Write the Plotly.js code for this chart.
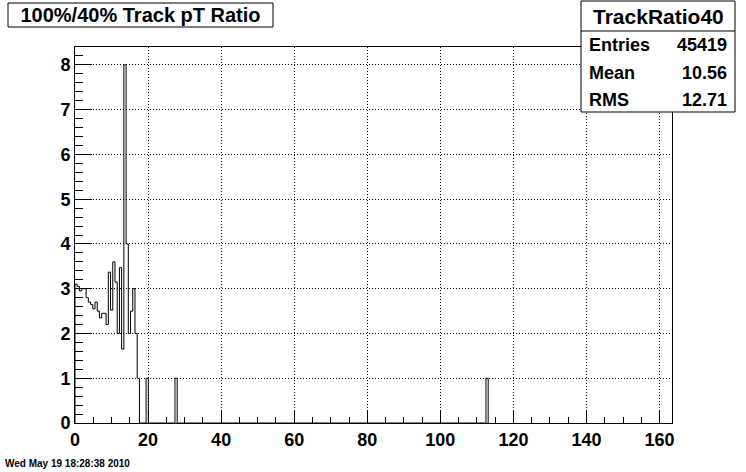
<!DOCTYPE html>
<html>
<head>
<meta charset="utf-8">
<script src="https://cdn.plot.ly/plotly-3.0.1.min.js"></script>
<style>
  html, body { margin: 0; padding: 0; background: #ffffff; }
  #chart { width: 746px; height: 472px; }
</style>
</head>
<body>
<div id="chart"></div>
<script>
// ---- data ----
const histName = "TrackRatio40";
const chartTitle = "100%/40% Track pT Ratio";
const binWidth = 0.608;
const xMax = 163.4;
// contiguous bins starting at 0
const counts = [3.1, 3.05, 2.95, 3.0, 3.0, 2.8, 2.7, 2.65, 2.55, 2.7,
                2.5, 2.35, 2.45, 2.45, 2.2, 3.37, 2.52, 3.6, 3.15, 2.0,
                3.47, 1.65, 8.0, 4.0, 2.0, 2.5, 3.0, 2.0, 1.0];
// isolated non-empty bins further out
const isolatedBins = [32, 45, 185];
const isolatedCounts = [1, 1, 1];
const statLabels = ["Entries", "Mean", "RMS"];
const statValues = ["45419", "10.56", "12.71"];
const xTickVals = [0, 20, 40, 60, 80, 100, 120, 140, 160];
const yTickVals = [0, 1, 2, 3, 4, 5, 6, 7, 8];
const dateText = "Wed May 19 18:28:38 2010";

// ---- build histogram outline ----
const nBins = Math.max(counts.length, Math.max(...isolatedBins) + 1);
const vals = new Array(nBins).fill(0);
counts.forEach((v, i) => { vals[i] = v; });
isolatedBins.forEach((b, i) => { vals[b] = isolatedCounts[i]; });
const hx = [0], hy = [0];
for (let k = 0; k < nBins; k++) { hx.push(k * binWidth); hy.push(vals[k]); }
hx.push(nBins * binWidth); hy.push(vals[nBins - 1]);
hx.push(nBins * binWidth); hy.push(0);

// ---- geometry helpers (pixel -> paper) ----
const W = 746, H = 472;
const L = 75, R = 74, T = 47, B = 49;
const pw = W - L - R, ph = H - T - B;
const px = x => (x - L) / pw;
const py = y => (H - B - y) / ph;

const FONT = "Liberation Sans, Arial, Helvetica, sans-serif";
const tickFont = { family: FONT, size: 18, color: "#000", weight: "bold" };

const trace = {
  x: hx, y: hy, type: "scatter", mode: "lines",
  line: { shape: "hv", color: "#000", width: 1 },
  hoverinfo: "skip", showlegend: false
};

const shapes = [
  // title box
  { type: "rect", xref: "paper", yref: "paper", x0: px(8), x1: px(273), y0: py(27), y1: py(3),
    line: { color: "#000", width: 1 }, fillcolor: "#fff", layer: "above" },
  // stats box
  { type: "rect", xref: "paper", yref: "paper", x0: px(581), x1: px(735), y0: py(112), y1: py(1),
    line: { color: "#000", width: 1 }, fillcolor: "#fff", layer: "above" },
  { type: "line", xref: "paper", yref: "paper", x0: px(581), x1: px(735), y0: py(31), y1: py(31),
    line: { color: "#000", width: 1 }, layer: "above" }
];

const statFont = { family: FONT, size: 18, color: "#000", weight: "bold" };
const annotations = [
  { text: histName, xref: "paper", yref: "paper", x: px(658), y: py(16), xanchor: "center", yanchor: "middle",
    showarrow: false, font: { family: FONT, size: 21, color: "#000", weight: "bold" } },
  { text: dateText, xref: "paper", yref: "paper", x: px(3), y: py(463), xanchor: "left", yanchor: "middle",
    showarrow: false, font: { family: FONT, size: 10, color: "#000", weight: "bold" } }
];
const rowY = [45, 73, 100];
statLabels.forEach((lab, i) => {
  annotations.push({ text: lab, xref: "paper", yref: "paper", x: px(587), y: py(rowY[i]), xanchor: "left",
    yanchor: "middle", showarrow: false, font: statFont });
  annotations.push({ text: statValues[i], xref: "paper", yref: "paper", x: px(729), y: py(rowY[i]), xanchor: "right",
    yanchor: "middle", showarrow: false, font: statFont });
});

const axisCommon = {
  showline: true, linecolor: "#000", linewidth: 1, mirror: true,
  ticks: "inside", tickcolor: "#000", tickwidth: 1,
  showgrid: true, gridcolor: "#000", gridwidth: 1, griddash: "1px,2px",
  zeroline: false, tickfont: tickFont, fixedrange: true
};

const layout = {
  width: W, height: H,
  margin: { l: L, r: R, t: T, b: B, pad: 0 },
  paper_bgcolor: "#fff", plot_bgcolor: "#fff",
  title: { text: chartTitle, xref: "container", yref: "container", x: 140.5 / W, y: 1 - 15 / H,
    xanchor: "center", yanchor: "middle", font: { family: FONT, size: 20, color: "#000", weight: "bold" } },
  xaxis: Object.assign({}, axisCommon, {
    range: [0, xMax], tickmode: "array", tickvals: xTickVals, ticktext: xTickVals.map(String), ticklen: 12,
    minor: { dtick: 5, tick0: 0, ticks: "inside", ticklen: 6, tickcolor: "#000", tickwidth: 1, showgrid: false }
  }),
  yaxis: Object.assign({}, axisCommon, {
    range: [0, 8.4], tickmode: "array", tickvals: yTickVals, ticktext: yTickVals.map(String), ticklen: 17,
    minor: { dtick: 0.2, tick0: 0, ticks: "inside", ticklen: 8, tickcolor: "#000", tickwidth: 1, showgrid: false }
  }),
  shapes: shapes,
  annotations: annotations,
  showlegend: false
};

Plotly.newPlot("chart", [trace], layout, { staticPlot: true, displayModeBar: false });
</script>
</body>
</html>
